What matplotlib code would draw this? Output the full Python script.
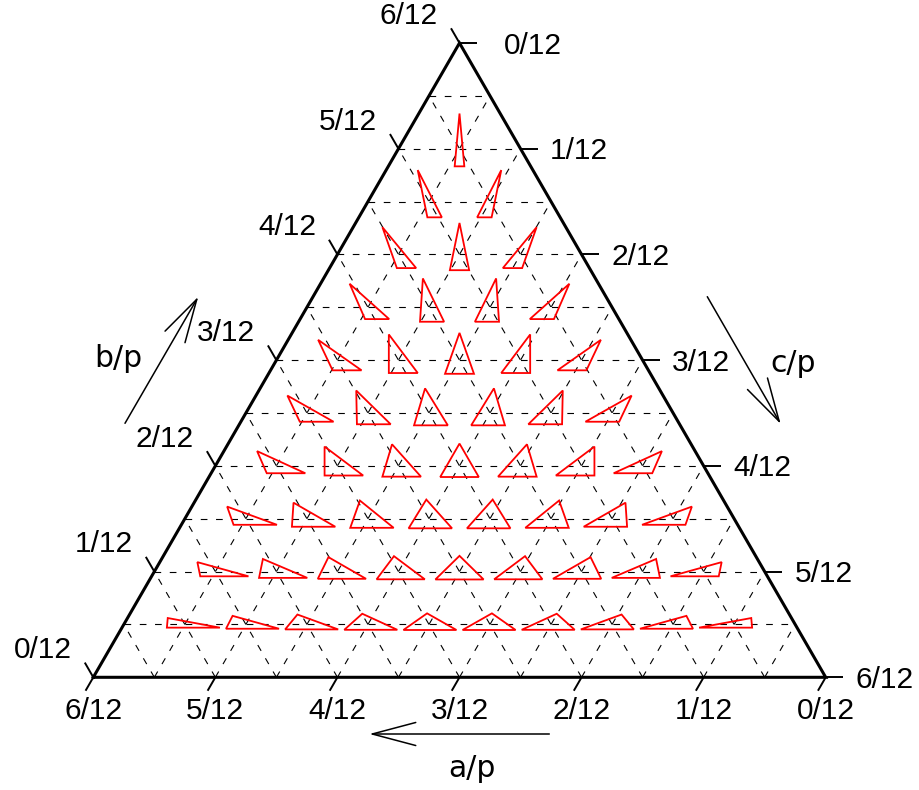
"""
Triangle shapes drawn on a ternary diagram of side ratios a/p, b/p, c/p.
Each red triangle has sides proportional to (a, b, c), base c horizontal,
centroid placed at its ternary position.
"""

import numpy as np
import matplotlib
matplotlib.use("Agg")
import matplotlib.pyplot as plt
from matplotlib.patches import Polygon

plt.rcParams["font.family"] = ["Liberation Sans", "DejaVu Sans"]
plt.rcParams["lines.scale_dashes"] = False

# side lengths in units of p/24 (a + b + c = 24)
a_24 = [11, 10, 9, 8, 7, 6, 5, 4, 3, 2,
        11, 10, 9, 8, 7, 6, 5, 4, 3,
        11, 10, 9, 8, 7, 6, 5, 4,
        11, 10, 9, 8, 7, 6, 5,
        11, 10, 9, 8, 7, 6,
        11, 10, 9, 8, 7,
        11, 10, 9, 8,
        11, 10, 9,
        11, 10,
        11]
b_24 = [2, 3, 4, 5, 6, 7, 8, 9, 10, 11,
        3, 4, 5, 6, 7, 8, 9, 10, 11,
        4, 5, 6, 7, 8, 9, 10, 11,
        5, 6, 7, 8, 9, 10, 11,
        6, 7, 8, 9, 10, 11,
        7, 8, 9, 10, 11,
        8, 9, 10, 11,
        9, 10, 11,
        10, 11,
        11]
c_24 = [11, 11, 11, 11, 11, 11, 11, 11, 11, 11,
        10, 10, 10, 10, 10, 10, 10, 10, 10,
        9, 9, 9, 9, 9, 9, 9, 9,
        8, 8, 8, 8, 8, 8, 8,
        7, 7, 7, 7, 7, 7,
        6, 6, 6, 6, 6,
        5, 5, 5, 5,
        4, 4, 4,
        3, 3,
        2]

tick_vals = [0, 1, 2, 3, 4, 5, 6]          # in twelfths
tick_labels = ["0/12", "1/12", "2/12", "3/12", "4/12", "5/12", "6/12"]
grid_vals = [1, 2, 3, 4, 5, 6, 7, 8, 9, 10, 11]   # in 24ths

SIDE_PX = 732.4              # outer triangle side in pixels
X0, Y0 = 93.3, 677.3         # bottom-left corner in image pixels
P = 1.0 / SIDE_PX            # one pixel in data units
SCALE = 0.158                # perimeter of a small triangle (data units)
R3 = np.sqrt(3) / 2


def to_xy(a, b, c):
    """(a, b, c) fractions of p, each <= 1/2 -> cartesian, side = 1."""
    return (1 - 2 * a) + 0.5 * (1 - 2 * c), R3 * (1 - 2 * c)


def img(xp, yp):
    return (xp - X0) * P, (Y0 - yp) * P


def shape(a, b, c):
    """vertices of triangle with base c, left side b, right side a."""
    ax_ = (c * c + b * b - a * a) / (2 * c)
    ay_ = np.sqrt(max(b * b - ax_ * ax_, 0))
    v = np.array([[0, 0], [c, 0], [ax_, ay_]])
    return v - v.mean(axis=0)


fig = plt.figure(figsize=(9.19, 7.90), dpi=100)
ax = fig.add_axes([0, 0, 1, 1])
ax.set_xlim(-X0 * P, (919 - X0) * P)
ax.set_ylim((Y0 - 790) * P, Y0 * P)
ax.axis("off")

# dashed grid, 1/24 spacing
dash = dict(color="k", lw=0.8, linestyle=(0, (4.8, 6.2)), zorder=1)
for k in grid_vals:
    f = k / 24
    # c constant (horizontal), left edge -> right edge
    p0, p1 = to_xy(0.5, 0.5 - f, f), to_xy(0.5 - f, 0.5, f)
    ax.plot([p0[0], p1[0]], [p0[1], p1[1]], **dash)
    # a constant, bottom edge -> right edge
    p0, p1 = to_xy(f, 0.5 - f, 0.5), to_xy(f, 0.5, 0.5 - f)
    ax.plot([p0[0], p1[0]], [p0[1], p1[1]], **dash)
    # b constant, bottom edge -> left edge
    p0, p1 = to_xy(0.5 - f, f, 0.5), to_xy(0.5, f, 0.5 - f)
    ax.plot([p0[0], p1[0]], [p0[1], p1[1]], **dash)

# small triangles
for a, b, c in zip(a_24, b_24, c_24):
    cx, cy = to_xy(a / 24, b / 24, c / 24)
    v = shape(a / 24, b / 24, c / 24) * SCALE + [cx, cy]
    ax.add_patch(Polygon(v, closed=True, fill=False, edgecolor="red",
                         lw=1.3, zorder=3))

# outer triangle
corners = [to_xy(0.5, 0, 0.5), to_xy(0, 0.5, 0.5), to_xy(0.5, 0.5, 0), to_xy(0.5, 0, 0.5)]
ax.plot([q[0] for q in corners], [q[1] for q in corners], color="k", lw=2.2,
        solid_joinstyle="miter", zorder=4)

fs = 21.5
tick_kw = dict(color="k", lw=1.4, zorder=4, solid_capstyle="butt")
for v, lab in zip(tick_vals, tick_labels):
    f = v / 12
    # left side: b/p
    x, y = to_xy(0.5, f, 0.5 - f)
    ex, ey = x - 0.5 * 17 * P, y + R3 * 17 * P
    ax.plot([x, ex], [y, ey], **tick_kw)
    ax.text(ex - 13 * P, ey + 4.5 * P, lab, fontsize=fs, ha="right", va="baseline")
    # bottom: a/p
    x, y = to_xy(f, 0.5 - f, 0.5)
    ex, ey = x - 0.5 * 15.5 * P, y - R3 * 15.5 * P
    ax.plot([x, ex], [y, ey], **tick_kw)
    ax.text(x, y - 41.7 * P, lab, fontsize=fs, ha="center", va="baseline")
    # right side: c/p
    x, y = to_xy(0.5 - f, 0.5, f)
    ex = x + 17.7 * P
    ax.plot([x, ex], [y, y], **tick_kw)
    gap = 27 if v == 0 else 12
    ax.text(ex + gap * P, y - 10.5 * P, lab, fontsize=fs, ha="left", va="baseline")

# axis names with arrows
arrow = dict(arrowstyle="->,head_length=31.3,head_width=8.3", mutation_scale=1,
             lw=1.1, color="k", shrinkA=0, shrinkB=0)
ax.annotate("", xy=img(369.3, 734), xytext=img(549.3, 734), arrowprops=arrow)
ax.annotate("", xy=img(198.3, 296.7), xytext=img(125, 423.3), arrowprops=arrow)
ax.annotate("", xy=img(780.7, 424), xytext=img(707.3, 296.7), arrowprops=arrow)

lab_kw = dict(fontsize=21.5, family="DejaVu Sans", ha="center", va="baseline")
ax.text(*img(471.7, 777.3), "a/p", **lab_kw)
ax.text(*img(118.7, 367.3), "b/p", **lab_kw)
ax.text(*img(793.3, 372), "c/p", **lab_kw)

fig.savefig("out.png", dpi=100)
plt.close(fig)
